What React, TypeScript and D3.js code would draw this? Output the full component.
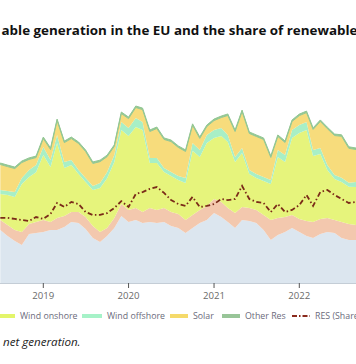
import React, { useEffect, useRef } from "react";
import * as d3 from "d3";

const months = [
  "2018-07","2018-08","2018-09","2018-10","2018-11","2018-12",
  "2019-01","2019-02","2019-03","2019-04","2019-05","2019-06","2019-07","2019-08","2019-09","2019-10","2019-11","2019-12",
  "2020-01","2020-02","2020-03","2020-04","2020-05","2020-06","2020-07","2020-08","2020-09","2020-10","2020-11","2020-12",
  "2021-01","2021-02","2021-03","2021-04","2021-05","2021-06","2021-07","2021-08","2021-09","2021-10","2021-11","2021-12",
  "2022-01","2022-02","2022-03","2022-04","2022-05","2022-06","2022-07","2022-08","2022-09",
];

const hydro = [35.3,31.3,28,25.3,32.7,33.3,34,35.3,35.3,37.3,40.7,40,36,30,27.3,31.3,36.7,44.7,40.7,42,40,40.7,40,40.7,38,36.7,33.3,36.7,40,42,46.7,44,40.7,36.7,42,41.3,40,35.3,28.7,32,34,36.7,34,31.3,30,32.7,34,33.3,30,28.7,28.7];
const biomass = [6.7,7.3,7.3,8.7,6.7,7.3,8,5.3,8,7.3,6.7,7.3,8,8,6.7,5.3,6.7,8,8,8,7.3,9.3,8.7,9.3,9.3,9.3,8.7,8.7,8.7,9.3,9.3,10,9.3,10,8.7,8.7,8.7,10,13.3,11.3,10,8.7,8.7,10,10.7,10,9.3,8.7,10.7,10.7,10];
const windOnshore = [17.3,20,22,32,31.3,33.3,43.3,36.7,50,32,31.3,25.3,23.3,24,29.3,33.3,37.3,49.3,49.3,54,54.7,30,31.3,24,24,22.7,24.7,42.7,35.3,42,40.7,44,44,34,36,22.7,21.3,22.7,24,40.7,36.7,51.3,57.3,60.7,44,43.3,32,27.3,26.7,24.7,25.3];
const windOffshore = [2.7,2.7,3.3,4,4.7,4.7,5.3,4.7,5.3,4,3.3,2.7,2.7,2.7,3.3,4,4.7,5.3,5.3,6,5.3,3.3,3.3,2.7,2.7,2.7,3.3,5.3,4.7,5.3,5.3,5.3,4.7,3.3,3.3,2.7,2.7,2.7,2.7,4.7,4.7,5.3,5.3,5.3,4,4,3.3,2.7,2.7,2.7,3.3];
const solar = [17,16.3,15.7,10.3,7,5,5.7,7,9.7,13,14.3,17.7,17.7,15,14.3,10.3,5.7,5.7,6.3,7,8.3,17.7,19.7,19,20.3,19,17.7,11.7,7.7,5.7,6.3,7,13,17,24.3,24.3,25,25,15,9,8.3,5.7,6.3,6.3,13.7,17.7,24.3,26.3,27.7,23,21.7];
const otherRes = [1,1,1,1,1,1,1,1,1,1,1,1,1,1,1,1,1,1,1,1,1,1,1,1,1,1,1,1,1,1,1,1,1,1,1,1,1,1,1,1,1,1,1,1,1,1,1,1,1,1,1];
const resShare = [31.0,31.0,30.5,30.0,29.5,31.4,30.5,32.9,38.1,36.2,38.6,37.6,33.8,32.4,32.4,33.3,35.7,39.0,36.2,42.4,43.3,44.8,45.7,42.9,39.5,37.6,36.7,41.0,36.2,36.7,37.6,40.0,39.5,40.0,46.2,40.0,38.6,38.1,33.8,37.6,33.8,34.8,37.1,41.9,36.7,43.3,44.3,41.9,40.0,38.1,38.6];

const seriesKeys = ["Hydro", "Biomass", "Wind onshore", "Wind offshore", "Solar", "Other Res"];
const seriesColors = ["#dce6ef", "#f3c8ae", "#e6f47c", "#a8efc6", "#f7dc7c", "#93c793"];
const legendLabels = ["Wind onshore", "Wind offshore", "Solar", "Other Res", "RES (Share in net generation)"];
const legendColors = ["#e3f56a", "#a6f2c8", "#f5da6a", "#98c598", "#8a2a1c"];
const yearTicks = ["2019", "2020", "2021", "2022"];
const titleText = "able generation in the EU and the share of renewable";
const footText = "net generation.";

export default function App() {
  const ref = useRef<SVGSVGElement>(null);

  useEffect(() => {
    const svg = d3.select(ref.current);
    svg.selectAll("*").remove();

    const parse = d3.timeParse("%Y-%m");
    const dates = months.map((m) => parse(m) as Date);

    const x = d3
      .scaleTime()
      .domain([new Date(2019, 0, 1), new Date(2022, 0, 1)])
      .range([43.3, 299.3]);
    const y = d3.scaleLinear().domain([0, 140]).range([283, 73]);
    const yShare = d3.scaleLinear().domain([0, 100]).range([283, 73]);

    const rows = dates.map((d, i) => ({
      date: d,
      Hydro: hydro[i],
      Biomass: biomass[i],
      "Wind onshore": windOnshore[i],
      "Wind offshore": windOffshore[i],
      Solar: solar[i],
      "Other Res": otherRes[i],
    }));

    const stack = d3.stack<any>().keys(seriesKeys);
    const layers = stack(rows);

    const area = d3
      .area<any>()
      .x((d) => x(d.data.date))
      .y0((d) => y(d[0]))
      .y1((d) => y(d[1]));

    svg
      .append("g")
      .selectAll("path")
      .data(layers)
      .join("path")
      .attr("d", area as any)
      .attr("fill", (_d, i) => seriesColors[i])
      .attr("stroke", (_d, i) => (i === 5 ? seriesColors[5] : "none"))
      .attr("stroke-width", 1);

    // RES share line
    const line = d3
      .line<number>()
      .x((_d, i) => x(dates[i]))
      .y((d) => yShare(d));
    svg
      .append("path")
      .attr("d", line(resShare) as string)
      .attr("fill", "none")
      .attr("stroke", "#7a2a18")
      .attr("stroke-width", 1.8)
      .attr("stroke-dasharray", "5,2.5,1.5,2.5");

    // x axis
    const axisG = svg.append("g").attr("transform", "translate(0,283)");
    axisG
      .append("line")
      .attr("x1", 0)
      .attr("x2", 356)
      .attr("y1", 0.5)
      .attr("y2", 0.5)
      .attr("stroke", "#c4cdd6")
      .attr("stroke-width", 1);
    const tickDates = yearTicks.map((t) => new Date(+t, 0, 1));
    axisG
      .selectAll("line.tick")
      .data(tickDates)
      .join("line")
      .attr("class", "tick")
      .attr("x1", (d) => x(d))
      .attr("x2", (d) => x(d))
      .attr("y1", 0)
      .attr("y2", 5)
      .attr("stroke", "#555")
      .attr("stroke-width", 1);
    axisG
      .selectAll("text")
      .data(tickDates)
      .join("text")
      .attr("x", (d) => x(d))
      .attr("y", 15.5)
      .attr("text-anchor", "middle")
      .attr("font-family", "'Open Sans', sans-serif")
      .attr("font-size", 9.6)
      .attr("fill", "#6a6a6a")
      .text((_d, i) => yearTicks[i]);

    // legend
    const legendX = [-5, 82, 170, 222, 292];
    const legendSw = [20, 20, 18, 18, 18];
    const lg = svg.append("g").attr("transform", "translate(0,316)");
    legendLabels.forEach((lab, i) => {
      const sx = legendX[i];
      const sw = legendSw[i];
      if (i === 4) {
        lg.append("line")
          .attr("x1", sx)
          .attr("x2", sx + sw)
          .attr("y1", 0)
          .attr("y2", 0)
          .attr("stroke", legendColors[i])
          .attr("stroke-width", 2)
          .attr("stroke-dasharray", "5,2,1.5,2");
      } else {
        lg.append("line")
          .attr("x1", sx)
          .attr("x2", sx + sw)
          .attr("y1", 0)
          .attr("y2", 0)
          .attr("stroke", legendColors[i])
          .attr("stroke-width", 4);
      }
      lg.append("text")
        .attr("x", sx + sw + 5)
        .attr("y", 3.3)
        .attr("font-family", "'Open Sans', sans-serif")
        .attr("font-size", 8.8)
        .attr("fill", "#6b6b7b")
        .text(lab);
    });

    // title
    svg
      .append("text")
      .attr("x", 1.5)
      .attr("y", 34.5)
      .attr("font-family", "'Open Sans', sans-serif")
      .attr("font-weight", "bold")
      .attr("font-size", 12.8)
      .attr("fill", "#111")
      .attr("textLength", 356)
      .attr("lengthAdjust", "spacingAndGlyphs")
      .text(titleText);

    // footnote
    svg
      .append("text")
      .attr("x", 3)
      .attr("y", 346)
      .attr("font-family", "'Open Sans', sans-serif")
      .attr("font-style", "italic")
      .attr("font-size", 11.6)
      .attr("fill", "#222")
      .text(footText);
  }, []);

  return (
    <div
      style={{
        position: "absolute",
        left: 0,
        top: 0,
        width: 356,
        height: 364,
        overflow: "hidden",
        background: "#fff",
      }}
    >
      <svg ref={ref} width={356} height={364} style={{ display: "block", overflow: "hidden" }} />
    </div>
  );
}
